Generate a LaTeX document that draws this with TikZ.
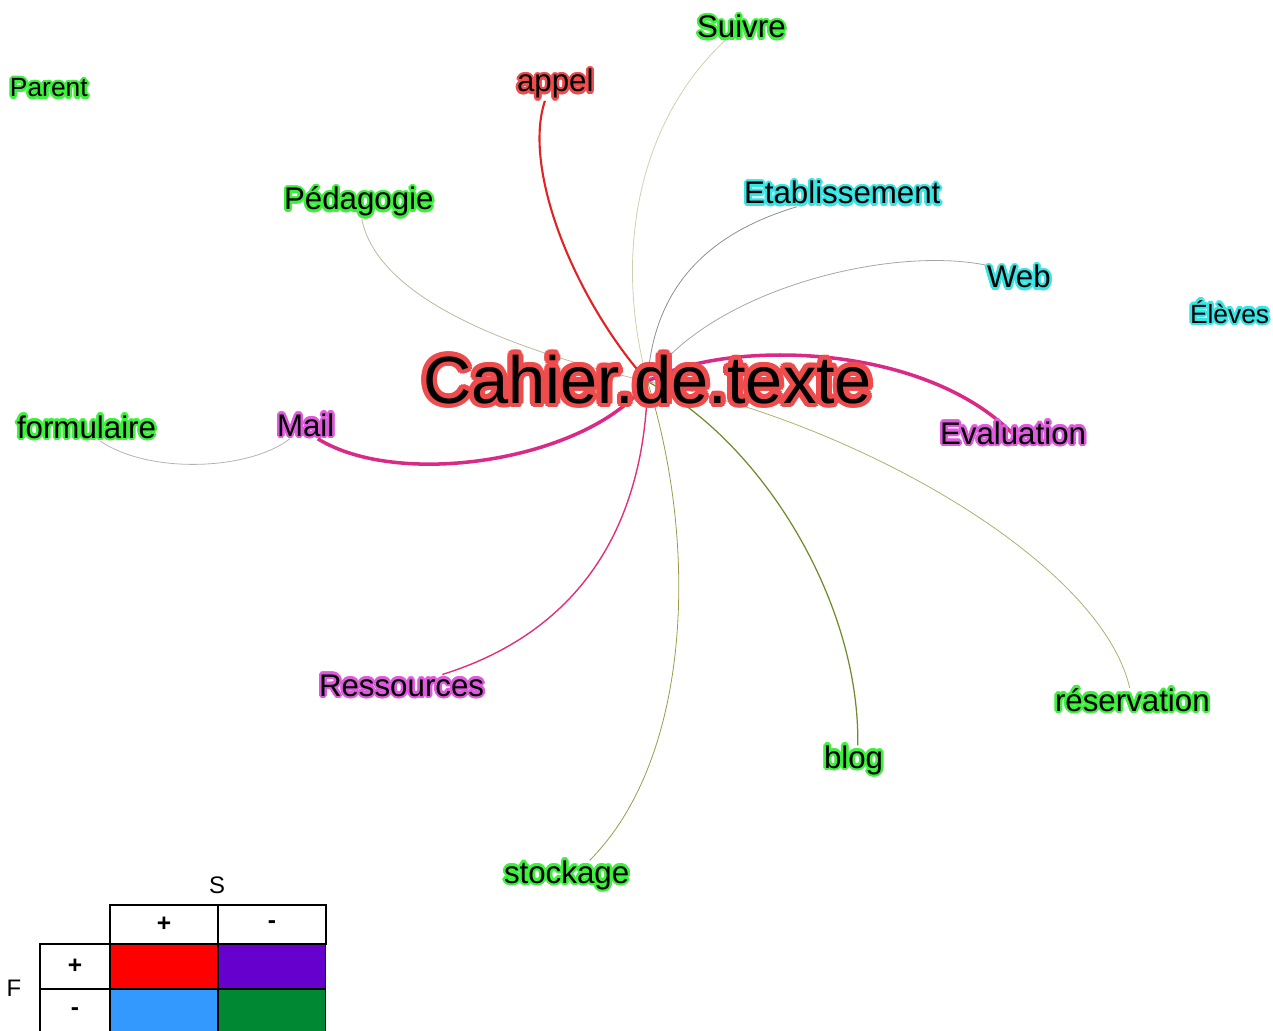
\documentclass[tikz,border=0pt]{standalone}
\usepackage{fontspec}
\setmainfont{Liberation Sans}
\usepackage[copies]{contour}
\contournumber{16}
\contourlength{1.4pt}
\usepackage{xcolor}
\usetikzlibrary{positioning, backgrounds}

\definecolor{haloGreen}{HTML}{3CF03C}
\definecolor{haloCyan}{HTML}{38E4E4}
\definecolor{haloViolet}{HTML}{DD5ADD}
\definecolor{haloRed}{HTML}{EE4C4C}
\definecolor{lnRed}{HTML}{E02424}
\definecolor{lnMagenta}{HTML}{D82A86}
\definecolor{lnPink}{HTML}{E0307A}
\definecolor{lnTan}{HTML}{CFCFAE}
\definecolor{lnGray}{HTML}{8E8E98}
\definecolor{lnOlive}{HTML}{9A9A48}
\definecolor{lnGreen}{HTML}{6E8B2A}
\definecolor{cellRed}{HTML}{FF0000}
\definecolor{cellViolet}{HTML}{6600CC}
\definecolor{cellBlue}{HTML}{3399FF}
\definecolor{cellGreen}{HTML}{008833}

\begin{document}
\begin{tikzpicture}[
      x=0.02cm, y=-0.02cm,
      word/.style={font=\fontsize{17.8}{20}\selectfont, inner sep=0pt, outer sep=0pt, anchor=base west},
      small/.style={word, font=\fontsize{15}{17}\selectfont},
      central/.style={font=\fontsize{38}{42}\selectfont, inner sep=0pt, outer sep=0pt, anchor=base west},
      link/.style={line width=0.45pt},
      strong/.style={line width=2pt},
      hcell/.style={draw, line width=0.6pt, minimum width=2.16cm, minimum height=0.78cm, inner sep=0pt, outer sep=0pt, font=\bfseries\fontsize{14}{16}\selectfont},
      rcell/.style={hcell, minimum width=1.4cm, minimum height=0.9cm},
      cell/.style={hcell, minimum height=0.9cm},
      axis/.style={font=\fontsize{13.6}{15}\selectfont}
    ]
    \useasboundingbox (0,0) rectangle (1273,1030);
    %% words
    \node[small] (parent) at (10,97) {\contour{haloGreen}{Parent}};
    \node[word] (appel) at (517,92) {\contour{haloRed}{appel}};
    \node[word] (suivre) at (697,38) {\contour{haloGreen}{Suivre}};
    \node[word] (pedagogie) at (284,210) {\contour{haloGreen}{Pédagogie}};
    \node[word] (etab) at (744,204) {\contour{haloCyan}{Etablissement}};
    \node[word] (web) at (987,288) {\contour{haloCyan}{Web}};
    \node[small] (eleves) at (1190,323) {\contour{haloCyan}{Élèves}};
    \node[central] (cahier) at (423,403) {\contourlength{2.8pt}\contour{haloRed}{Cahier.de.texte}};
    \node[word] (formulaire) at (17,438) {\contour{haloGreen}{formulaire}};
    \node[word] (mail) at (277,436) {\contour{haloViolet}{Mail}};
    \node[word] (evaluation) at (940,444) {\contour{haloViolet}{Evaluation}};
    \node[word] (ressources) at (319,696) {\contour{haloViolet}{Ressources}};
    \node[word] (reservation) at (1055,711) {\contour{haloGreen}{réservation}};
    \node[word] (blog) at (824,768) {\contour{haloGreen}{blog}};
    \node[word] (stockage) at (504,883) {\contour{haloGreen}{stockage}};
    %% links
    \begin{scope}[on background layer]
      \draw[link, lnRed, line width=1.2pt] (cahier.center) .. controls (575,300) and (522,170) .. ([xshift=-5.9pt]appel.south);
      \draw[link, lnTan] (cahier.center) .. controls (612,250) and (640,120) .. ([xshift=-9.4pt]suivre.south);
      \draw[link, lnGray] (cahier.center) .. controls (652,310) and (685,240) .. ([xshift=-25.8pt]etab.south);
      \draw[link, lnGray!80] (cahier.center) .. controls (710,290) and (890,245) .. (web.north west);
      \draw[link, lnTan!90!black] ([xshift=1.7pt]pedagogie.south) .. controls (375,285) and (470,340) .. (cahier.center);
      \draw[strong, lnMagenta] (cahier.center) .. controls (720,340) and (920,340) .. (evaluation.center);
      \draw[strong, lnMagenta] (cahier.center) .. controls (590,460) and (400,490) .. ([xshift=6.9pt]mail.south);
      \draw[link, gray!60] ([xshift=7.5pt]formulaire.south) .. controls (150,475) and (250,470) .. ([xshift=-9pt]mail.south);
      \draw[link, lnPink, line width=0.8pt] (cahier.center) .. controls (645,520) and (585,630) .. ([xshift=23.2pt]ressources.north);
      \draw[link, lnOlive] (cahier.center) .. controls (700,550) and (690,760) .. ([xshift=13.1pt]stockage.north);
      \draw[link, lnGreen, line width=0.7pt] (cahier.center) .. controls (760,440) and (860,600) .. ([xshift=2.4pt]blog.north);
      \draw[link, lnOlive!80] (cahier.center) .. controls (850,420) and (1100,560) .. ([xshift=-1.5pt]reservation.north);
    \end{scope}
    %% legend
    \node[axis] (sLab) at (217,885) {S};
    \node[axis] (fLab) at (14,988) {F};
    \node[hcell] (sPlus) at (164,924.5) {+};
    \node[hcell, right=0pt of sPlus] (sMinus) {-};
    \node[rcell] (fPlus) at (75,966.5) {+};
    \node[rcell, below=0pt of fPlus] (fMinus) {-};
    \node[cell, fill=cellRed, right=0pt of fPlus] (redCell) {};
    \node[cell, fill=cellViolet, right=0pt of redCell] (violetCell) {};
    \node[cell, fill=cellBlue, right=0pt of fMinus] (blueCell) {};
    \node[cell, fill=cellGreen, right=0pt of blueCell] (greenCell) {};
  \end{tikzpicture}
\end{document}
